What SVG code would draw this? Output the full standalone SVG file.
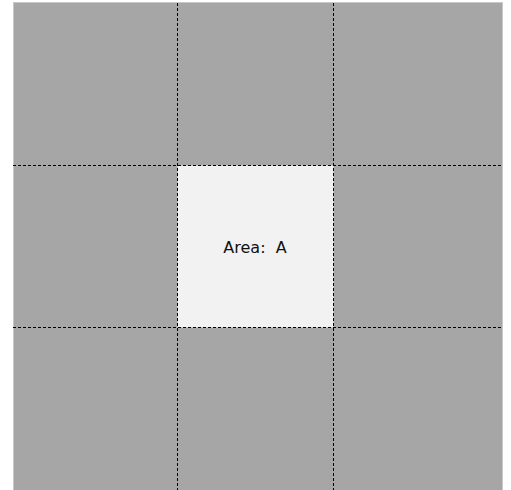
<svg xmlns="http://www.w3.org/2000/svg" width="511" height="490" viewBox="0 0 511 490">
<style>
.cell{fill:#a6a6a6}
.center{fill:#f2f2f2}
.grid{stroke:#000000;stroke-width:1;stroke-dasharray:3,2;fill:none}
.lbl{font-family:"DejaVu Sans",Verdana,sans-serif;font-size:16px;fill:#111111}
</style>
<rect x="0" y="0" width="511" height="490" fill="#ffffff"/>
<g id="outer">
<rect class="cell" x="13" y="2.5" width="490" height="487.5"/>
<line x1="13.5" y1="2.5" x2="13.5" y2="490" stroke="#c8c8c8" stroke-width="1"/>
<line x1="13" y1="2.5" x2="503" y2="2.5" stroke="#c8c8c8" stroke-width="1"/>
<line x1="502.5" y1="2.5" x2="502.5" y2="490" stroke="#c8c8c8" stroke-width="1"/>
</g>
<g id="area-a">
<rect class="center" x="177.5" y="165.5" width="156" height="162"/>
<text class="lbl" x="255" y="252.5" text-anchor="middle" xml:space="preserve">Area:  A</text>
</g>
<g id="grid-lines">
<line class="grid" x1="177.5" y1="3" x2="177.5" y2="490"/>
<line class="grid" x1="333.5" y1="3" x2="333.5" y2="490"/>
<line class="grid" x1="13" y1="165.5" x2="503" y2="165.5"/>
<line class="grid" x1="13" y1="327.5" x2="503" y2="327.5"/>
</g>
</svg>
